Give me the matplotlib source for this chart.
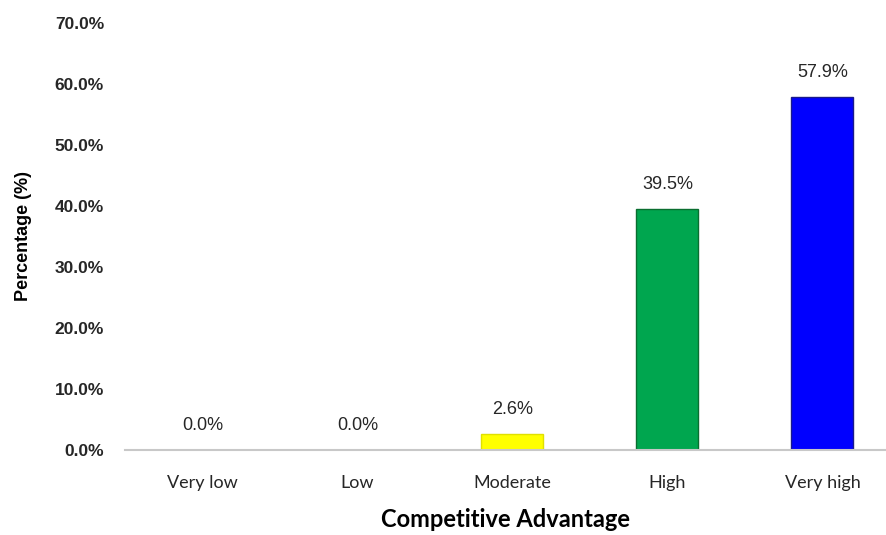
import matplotlib
matplotlib.use("Agg")
import matplotlib.pyplot as plt
from matplotlib.ticker import FuncFormatter

categories = ["Very low", "Low", "Moderate", "High", "Very high"]
values = [0.0, 0.0, 2.6, 39.5, 57.9]
colors = ["#ffff00", "#ffff00", "#ffff00", "#00a64f", "#0000ff"]
edges = ["#ffff00", "#ffff00", "#e0e000", "#0a6e30", "#1a1a8c"]

fig = plt.figure(figsize=(8.86, 5.35), dpi=100)
ax = fig.add_axes([0.141, 0.159, 0.859, 0.798])

x = range(len(categories))
ax.bar(x, values, width=0.4, color=colors, edgecolor=edges, linewidth=1, zorder=2)

for xi, v in zip(x, values):
    ax.text(xi, v + 2.6, f"{v:.1f}%", ha="center", va="bottom",
            fontsize=13, color="#262626", family="Liberation Sans")

ax.set_ylim(0, 70)
ax.set_xlim(-0.5, 4.41)
ax.set_yticks(range(0, 71, 10))
ax.yaxis.set_major_formatter(FuncFormatter(lambda v, p: f"{v:.1f}%"))
ax.set_xticks(list(x))
ax.set_xticklabels(categories, fontsize=13, family="Lato", color="#262626")
for lab in ax.get_yticklabels():
    lab.set_family("Liberation Sans")
    lab.set_fontsize(12.5)
    lab.set_color("#262626")
    lab.set_fontweight("bold")

ax.tick_params(axis="y", length=0, pad=15)
ax.tick_params(axis="x", length=0, pad=18)
for s in ["top", "right", "left"]:
    ax.spines[s].set_visible(False)
ax.spines["bottom"].set_color("#c8c8c8")
ax.spines["bottom"].set_linewidth(1.5)

ax.set_ylabel("Percentage (%)", fontsize=13, fontweight="bold", family="Liberation Sans", labelpad=16)
ax.set_xlabel("Competitive Advantage", fontsize=17, fontweight="bold", family="Lato", labelpad=12)

fig.savefig("out.png", dpi=100)
